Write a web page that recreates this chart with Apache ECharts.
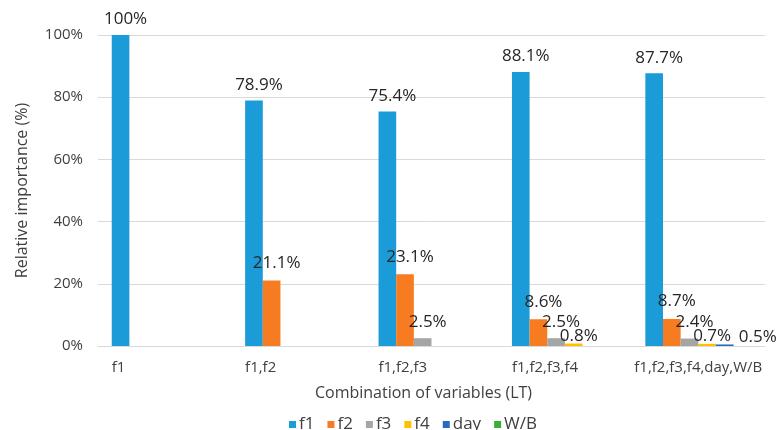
<!DOCTYPE html>
<html>
<head>
<meta charset="utf-8">
<script src="https://cdn.jsdelivr.net/npm/echarts@6/dist/echarts.min.js"></script>
<style>
  html, body { margin: 0; padding: 0; background: #ffffff; }
  #chart { width: 778px; height: 430px; }
</style>
</head>
<body>
<div id="chart"></div>
<script>
// Variable combinations on the x axis
const categories = ['f1', 'f1,f2', 'f1,f2,f3', 'f1,f2,f3,f4', 'f1,f2,f3,f4,day,W/B'];

// Relative importance (%) of each variable per combination; null = not in the combination
const f1Values  = [100, 78.9, 75.4, 88.1, 87.7];
const f2Values  = [null, 21.1, 23.1, 8.6, 8.7];
const f3Values  = [null, null, 2.5, 2.5, 2.4];
const f4Values  = [null, null, null, 0.8, 0.7];
const dayValues = [null, null, null, null, 0.5];
const wbValues  = [null, null, null, null, null];

const yTicks = { min: 0, max: 100, interval: 20 };

const FONT = '"Open Sans", "Noto Sans", sans-serif';

// per-series colour and label placement (distance above the bar, horizontal nudge)
const seriesDefs = [
  { name: 'f1',  data: f1Values,  color: '#1b9bd7', dist: 7,  dx: 5 },
  { name: 'f2',  data: f2Values,  color: '#f77c21', dist: 9,  dx: 5 },
  { name: 'f3',  data: f3Values,  color: '#a5a5a5', dist: 8,  dx: 5 },
  { name: 'f4',  data: f4Values,  color: '#ffc000', dist: -1, dx: 5 },
  { name: 'day', data: dayValues, color: '#2a6ac6', dist: -1, dx: 33 },
  { name: 'W/B', data: wbValues,  color: '#3aae3a', dist: 0,  dx: 5 }
];

const chart = echarts.init(document.getElementById('chart'), null, { renderer: 'canvas' });

chart.setOption({
  animation: false,
  backgroundColor: '#ffffff',
  grid: { left: 98, right: 13, top: 35, bottom: 84, containLabel: false },
  legend: {
    data: seriesDefs.map(s => s.name),
    left: 284,
    top: 411,
    itemWidth: 7,
    itemHeight: 7,
    itemGap: 13,
    icon: 'rect',
    textStyle: { fontFamily: FONT, fontSize: 17, color: '#404040', padding: [0, 0, 0, -2] }
  },
  xAxis: {
    type: 'category',
    data: categories,
    name: 'Combination of variables (LT)',
    nameLocation: 'middle',
    nameGap: 39,
    nameTextStyle: { fontFamily: FONT, fontSize: 16, color: '#404040', padding: [0, 16, 0, 0] },
    axisLine: { lineStyle: { color: '#d9d9d9', width: 1 } },
    axisTick: { show: false },
    axisLabel: {
      interval: 0,
      margin: 14,
      align: 'center',
      fontFamily: FONT,
      fontSize: 15,
      color: '#404040',
      formatter: (v, i) => (i === categories.length - 1 ? '{c|' + v + '}' : '{l|' + v + '}'),
      rich: {
        l: { width: 106, align: 'left', fontFamily: FONT, fontSize: 15, color: '#404040' },
        c: { align: 'center', fontFamily: FONT, fontSize: 15, color: '#404040' }
      }
    }
  },
  yAxis: {
    type: 'value',
    min: yTicks.min,
    max: yTicks.max,
    interval: yTicks.interval,
    name: 'Relative importance (%)',
    nameLocation: 'middle',
    nameRotate: 90,
    nameGap: 68,
    nameTextStyle: { fontFamily: FONT, fontSize: 16, color: '#404040' },
    axisLine: { show: false },
    axisTick: { show: false },
    axisLabel: { formatter: '{value}%', margin: 15, fontFamily: FONT, fontSize: 15, color: '#404040' },
    splitLine: { lineStyle: { color: '#d9d9d9', width: 1 } }
  },
  series: seriesDefs.map(s => ({
    name: s.name,
    type: 'bar',
    data: s.data,
    barGap: '0%',
    barCategoryGap: '20.6%',
    itemStyle: { color: s.color },
    label: {
      show: true,
      position: 'top',
      distance: s.dist,
      offset: [s.dx, 0],
      formatter: p => (p.value == null ? '' : p.value + '%'),
      fontFamily: FONT,
      fontSize: 17,
      color: '#262626'
    }
  }))
});
</script>
</body>
</html>
